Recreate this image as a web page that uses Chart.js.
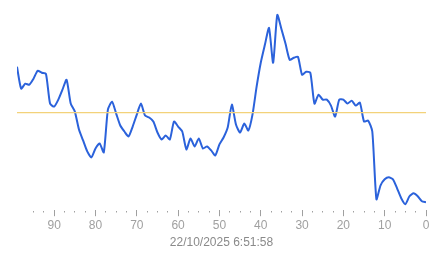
<!DOCTYPE html>
<html>
<head>
<meta charset="utf-8">
<script src="https://cdn.jsdelivr.net/npm/chart.js@4"></script>
<style>
html,body{margin:0;padding:0;background:#fff;}
#wrap{width:443px;height:258px;position:relative;}
</style>
</head>
<body>
<div id="wrap"><canvas id="c"></canvas></div>
<script>
const TITLE = "22/10/2025 6:51:58";
const ages = [99,98,97,96,95,94,93,92,91,90,89,88,87,86,85,84,83,82,81,80,
  79,78,77,76,75,74,73,72,71,70,69,68,67,66,65,64,63,62,61,60,
  59,58,57,56,55,54,53,52,51,50,49,48,47,46,45,44,43,42,41,40,
  39,38,37,36,35,34,33,32,31,30,29,28,27,26,25,24,23,22,21,20,
  19,18,17,16,15,14,13,12,11,10,9,8,7,6,5,4,3,2,1,0];
const values = [72,61,63.5,63,66,70,69,68.5,53.5,52,55.5,60.5,65.5,53.5,49.5,40.5,35,29.5,26.5,31,
  33.5,29,50.5,54.5,48.5,42.5,39.5,37,42,48,53.5,47.5,46.5,44.5,39,35.5,37.5,35.5,44.5,42,
  39.5,30.5,36,32,36,31,32,30,27.5,33,36.5,41.5,53,43,39,43.5,40,48,62,74,
  83,91.5,74,98,91,83.5,75.5,76.5,77,68,69.5,69,53.5,58,55.5,55.5,52.5,47,55.5,55.5,
  53.5,55,52.5,54,44.5,45,39.5,5.5,12.5,15.5,16.5,15.5,11,6,3,7,8.5,7,4.5,4];
const referenceLevel = 49;
const xTickStep = 2.5;
const xLabelStep = 10;

const mainData = ages.map((a,i)=>({x:a,y:values[i]}));
const refData = [{x:ages[0],y:referenceLevel},{x:ages[ages.length-1],y:referenceLevel}];

Chart.defaults.font.family = "'Liberation Sans', Arial, sans-serif";
new Chart(document.getElementById('c'), {
  type:'line',
  data:{datasets:[
    {data:refData,borderColor:'#f3d27a',borderWidth:1.2,pointRadius:0,tension:0},
    {data:mainData,borderColor:'#2b62db',borderWidth:2,pointRadius:0,tension:0.2}
  ]},
  options:{
    responsive:true,maintainAspectRatio:false,animation:false,
    layout:{padding:{left:17,right:17,top:5,bottom:8}},
    plugins:{legend:{display:false},tooltip:{enabled:false}},
    scales:{
      y:{display:false,min:0,max:103},
      x:{
        type:'linear',reverse:true,min:0,max:99,
        afterBuildTicks:s=>{s.ticks=s.ticks.filter(t=>Math.abs(t.value/xTickStep-Math.round(t.value/xTickStep))<1e-6);},
        ticks:{stepSize:xTickStep,autoSkip:false,maxRotation:0,color:'#a0a0a0',font:{size:12},padding:2,
          callback:v=>(v%xLabelStep===0?String(v):'')},
        grid:{drawOnChartArea:false,drawTicks:true,tickLength:6,
          tickColor:'#a0a0a0',tickWidth:1,
          tickBorderDash:ctx=>(ctx.tick&&ctx.tick.value%xLabelStep===0?[]:[1.5,30]),
          tickBorderDashOffset:ctx=>(ctx.tick&&ctx.tick.value%xLabelStep===0?0:-1)},
        border:{display:false},
        title:{display:true,text:TITLE,color:'#8a8a8a',font:{size:12},padding:{top:1,bottom:0}}
      }
    }
  }
});
</script>
</body>
</html>
